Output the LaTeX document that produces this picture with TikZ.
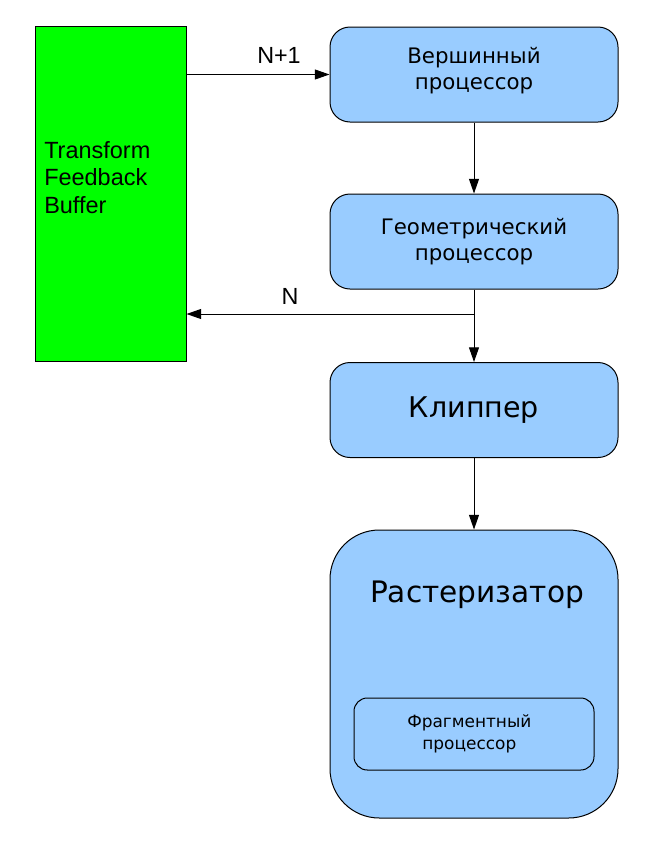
\documentclass[tikz,border=0pt]{standalone}
\usepackage{fontspec}
\setmainfont{DejaVu Sans}
\newfontfamily\arialf{Liberation Sans}
\usetikzlibrary{arrows.meta}
\definecolor{boxblue}{HTML}{99CCFF}
\definecolor{tfbgreen}{HTML}{00FF00}
\tikzset{
  stagebox/.style={draw=black, line width=0.75pt, fill=boxblue, rounded corners=15pt,
    minimum width=216pt, minimum height=71.25pt, inner sep=0pt, align=center},
  smalltext/.style={font=\fontsize{16}{19.8}\selectfont},
  arr/.style={draw=black, line width=0.75pt, -{Triangle[length=11pt,width=7.5pt]}},
  lbl/.style={font=\arialf\fontsize{17.5}{20}\selectfont, inner sep=0pt, anchor=base},
}
\begin{document}
\begin{tikzpicture}[x=0.75pt, y=-0.75pt]
\useasboundingbox (0,0) rectangle (650,850);
\fill[white] (0,0) rectangle (650,850);

% Transform feedback buffer
\node[draw=black, line width=0.75pt, fill=tfbgreen, minimum width=113.25pt, minimum height=251.25pt, inner sep=0pt] (tfb) at (110.5,193.5) {};
\node[font=\arialf\fontsize{17.6}{20.6}\selectfont, align=left, inner sep=0pt, anchor=north west] (tfbtext) at (44,141) {Transform\\Feedback\\Buffer};

% Stages
\node[stagebox, smalltext, text depth=9pt] (vp) at (474,74.5) {Вершинный\\процессор};
\node[stagebox, smalltext] (gp) at (474,241.5) {Геометрический\\процессор};
\node[stagebox, font=\fontsize{21.4}{24}\selectfont] (clip) at (474,410) {Клиппер};
\node[draw=black, line width=0.75pt, fill=boxblue, rounded corners=37pt, minimum width=216pt, minimum height=216pt, inner sep=0pt] (rast) at (474,674) {};
\node[font=\fontsize{22.2}{26}\selectfont, inner sep=0pt, anchor=base] (rasttitle) at (477,602) {Растеризатор};
\node[draw=black, line width=0.75pt, fill=boxblue, rounded corners=10pt, minimum width=180pt, minimum height=54pt, inner sep=0pt, align=center, font=\fontsize{12.7}{16.5}\selectfont] (frag) at (474,734) {Фрагментный\hspace*{7pt}\\процессор\hspace*{7pt}};

% Connectors
\draw[arr] (tfb.east |- vp.west) -- (vp.west);
\node[lbl] (lnp) at (279,63) {N+1};
\draw[arr] (vp.south) -- (gp.north);
\coordinate (split) at (474,314);
\draw[line width=0.75pt] (gp.south) -- (split);
\draw[arr] (split) -- (clip.north);
\draw[arr] (split) -- (tfb.east |- split);
\node[lbl] (ln) at (290,304) {N};
\draw[arr] (clip.south) -- (rast.north);
\end{tikzpicture}
\end{document}
